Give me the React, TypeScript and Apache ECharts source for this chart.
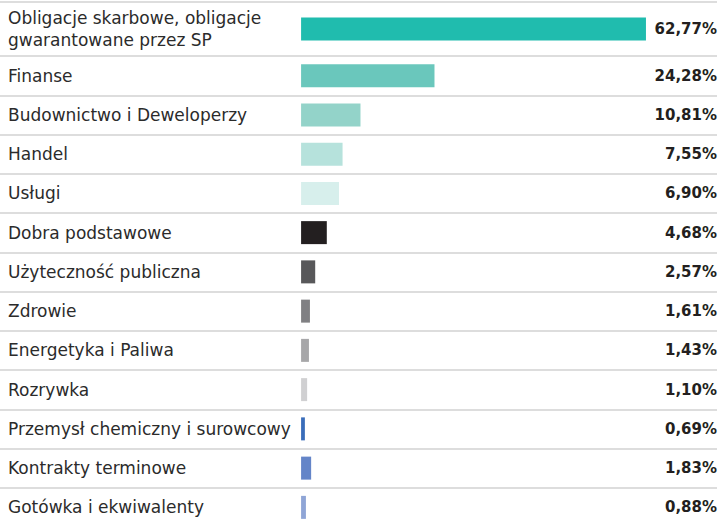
import React, { useEffect, useRef } from "react";
import * as echarts from "echarts";

const categories = [
  "Obligacje skarbowe, obligacje\ngwarantowane przez SP",
  "Finanse",
  "Budownictwo i Deweloperzy",
  "Handel",
  "Usługi",
  "Dobra podstawowe",
  "Użyteczność publiczna",
  "Zdrowie",
  "Energetyka i Paliwa",
  "Rozrywka",
  "Przemysł chemiczny i surowcowy",
  "Kontrakty terminowe",
  "Gotówka i ekwiwalenty",
];
const values = [62.77, 24.28, 10.81, 7.55, 6.9, 4.68, 2.57, 1.61, 1.43, 1.1, 0.69, 1.83, 0.88];
const barColors = [
  "#20BCAE", "#6AC7BC", "#93D3C9", "#B6E2DC", "#D7EFEC",
  "#231F20", "#58585A", "#808083", "#A7A7A9", "#D0D0D2",
  "#3A6DBA", "#6485C8", "#8FA5D6",
];

const fmt = (v: number) => v.toFixed(2).replace(".", ",") + "%";

export default function App() {
  const ref = useRef<HTMLDivElement>(null);
  useEffect(() => {
    if (!ref.current) return;
    const chart = echarts.init(ref.current, undefined, { renderer: "svg" });
    const groups = [
      { cats: categories.slice(0, 1), vals: values.slice(0, 1), cols: barColors.slice(0, 1) },
      { cats: categories.slice(1), vals: values.slice(1), cols: barColors.slice(1) },
    ];
    const grids = [
      { left: 0, right: 4, top: 2, height: 54, outerBoundsMode: "none", containLabel: false },
      { left: 0, right: 4, top: 56, height: 471, outerBoundsMode: "none", containLabel: false },
    ];
    const labelFont = "DejaVu Sans";
    const xAxis: any[] = [];
    const yAxis: any[] = [];
    const series: any[] = [];
    groups.forEach((g, i) => {
      xAxis.push({ type: "value", gridIndex: i, min: -54.8, max: 75.7, show: false });
      yAxis.push({
        type: "category",
        gridIndex: i,
        inverse: true,
        data: g.cats,
        axisLine: { show: false },
        axisTick: { show: false },
        axisLabel: {
          inside: true,
          margin: 8,
          color: "#2b2b2b",
          fontFamily: labelFont,
          fontSize: 17,
          lineHeight: 22,
        },
        splitLine: { show: true, lineStyle: { color: "#dddddd", width: 2 } },
      });
      yAxis.push({
        type: "category",
        gridIndex: i,
        position: "right",
        inverse: true,
        data: g.cats,
        axisLine: { show: false },
        axisTick: { show: false },
        axisLabel: {
          inside: true,
          margin: 0,
          color: "#231F20",
          fontFamily: labelFont,
          fontWeight: "bold",
          fontSize: 15,
          padding: [4, 0, 0, 0],
          formatter: (_v: string, idx: number) => fmt(g.vals[idx]),
        },
        splitLine: { show: false },
      });
      series.push({
        type: "bar",
        xAxisIndex: i,
        yAxisIndex: i * 2,
        barWidth: 23,
        data: g.vals.map((v, k) => ({ value: v, itemStyle: { color: g.cols[k] } })),
      });
    });
    chart.setOption({
      animation: false,
      backgroundColor: "#ffffff",
      grid: grids,
      xAxis,
      yAxis,
      series,
    });
    return () => chart.dispose();
  }, []);
  return (
    <div
      ref={ref}
      style={{ position: "absolute", left: 0, top: 0, width: 721, height: 522 }}
    />
  );
}
